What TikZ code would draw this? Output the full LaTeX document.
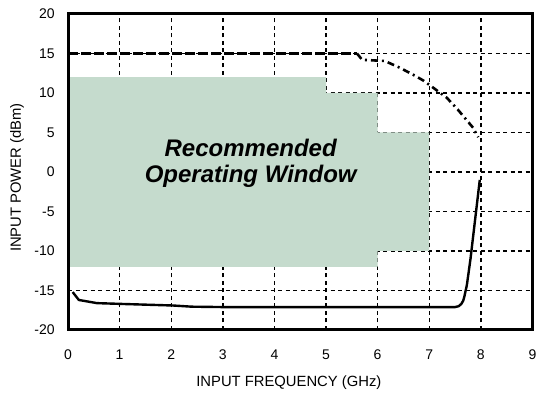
\documentclass[tikz,border=0pt]{standalone}
\usepackage{fontspec}
\setmainfont{Liberation Sans}
\usetikzlibrary{positioning}
\definecolor{windowgreen}{RGB}{197,219,205}

\begin{document}
\begin{tikzpicture}[
x=51.6pt,
y=7.9pt,
gridline/.style={
line width=1.4pt,
dash pattern=on 4pt off 3.5pt,
color=black
},
frame/.style={
line width=3pt,
draw=black
},
ticklabel/.style={
draw=none,
fill=none,
font=\fontsize{14}{16}\selectfont
},
axislabel/.style={
draw=none,
fill=none,
font=\fontsize{14.8}{17}\selectfont
},
window/.style={
fill=windowgreen,
draw=none
},
maxcurve/.style={
line width=2.4pt,
dash pattern=on 10pt off 3pt
},
rolloff/.style={
line width=2.6pt,
dash pattern=on 7pt off 4pt on 2pt off 4pt
},
mincurve/.style={
line width=2.4pt,
line join=round
}]

\useasboundingbox (-1.318,-28.35) rectangle (9.089,21.77);

% grid
\foreach \x in {1,...,8}
  \draw[gridline] (\x,-20) -- (\x,20);
\foreach \y in {-15,-10,...,15}
  \draw[gridline] (0,\y) -- (9,\y);

% recommended window
\fill[window] (0,-12) -- (0,12) -- (5,12) -- (5,10) -- (6,10) -- (6,5)
  -- (7,5) -- (7,-10) -- (6,-10) -- (6,-12) -- cycle;
\node [draw=none, align=center, font=\fontsize{24}{26}\selectfont\bfseries\itshape]
  (win) at (3.54,1.1) {Recommended\\Operating Window};

% maximum input power
\draw[maxcurve] (0,15) -- (5.6,15);
\draw[rolloff] (5.6,15) -- (5.7,14.2) -- (6.14,14.05) -- (6.43,13.2)
  -- (6.72,12.2) -- (6.88,11.6) -- (7.05,10.8) -- (7.34,9.4) -- (7.56,7.85)
  -- (7.85,5.6) -- (7.95,4.4);

% minimum input power
\draw[mincurve] (0.09,-15.2) -- (0.21,-16.2) -- (0.56,-16.6) -- (1.03,-16.7)
  -- (2.03,-16.9) -- (2.4,-17.05) -- (3,-17.1) -- (7.5,-17.1)
  to[out=0,in=-100] (7.68,-15.8) -- (7.73,-14.3) -- (7.8,-11) -- (7.98,-1);

% frame
\draw[frame] (0,-20) rectangle (9,20);

% ticks
\foreach \x in {0,...,9}
  \node [ticklabel] (xt\x) at (\x,-23.1) {\x};
\foreach \y in {-20,-15,...,20}
  \node [ticklabel, anchor=east] (yt\y) at (-0.19,\y) {\y};

\node [axislabel] (xlab) at (4.28,-26.7) {INPUT FREQUENCY (GHz)};
\node [axislabel, rotate=90] (ylab) at (-0.99,-0.7) {INPUT POWER (dBm)};

\end{tikzpicture}
\end{document}
